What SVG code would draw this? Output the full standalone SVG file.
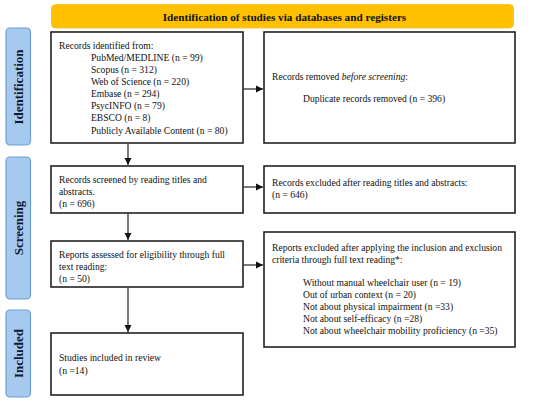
<svg xmlns="http://www.w3.org/2000/svg" width="550" height="402" viewBox="0 0 550 402">
<defs>
<marker id="ah" markerWidth="8" markerHeight="8" refX="7" refY="4" orient="auto" markerUnits="userSpaceOnUse">
<path d="M0,0.5 L7,4 L0,7.5 Z" fill="#111"/>
</marker>
<style>
.box{fill:#fff;stroke:#222;stroke-width:1.6}
.side{fill:#a5c9ef;stroke:#6d9fd4;stroke-width:1.2}
.t{font-family:'Liberation Serif','Times New Roman',serif;font-size:9.6px;fill:#111}
.sl{font-family:'Liberation Serif','Times New Roman',serif;font-size:13px;font-weight:bold;fill:#0d1a33}
.hd{font-family:'Liberation Serif','Times New Roman',serif;font-size:11.2px;font-weight:bold;fill:#111}
.c{stroke:#333;stroke-width:1.3;fill:none}
</style>
</defs>
<rect width="550" height="402" fill="#fff"/>
<g id="header">
<rect x="51.5" y="4.5" width="462" height="23.5" rx="4" fill="#ffc000" stroke="#f5c43a" stroke-width="1"/>
<text class="hd" x="284.5" y="20.5" text-anchor="middle">Identification of studies via databases and registers</text>
</g>
<g id="side-identification">
<rect class="side" x="6" y="28" width="24.5" height="117" rx="4"/>
<text class="sl" transform="translate(23,87) rotate(-90)" text-anchor="middle">Identification</text>
</g>
<g id="side-screening">
<rect class="side" x="6" y="157" width="24.5" height="142" rx="4"/>
<text class="sl" transform="translate(23,228) rotate(-90)" text-anchor="middle">Screening</text>
</g>
<g id="side-included">
<rect class="side" x="6" y="310" width="24.5" height="87" rx="4"/>
<text class="sl" transform="translate(23,353.5) rotate(-90)" text-anchor="middle">Included</text>
</g>
<g id="records-identified">
<rect class="box" x="51" y="32" width="192" height="111"/>
<text class="t" x="59" y="49">Records identified from:</text>
<text class="t" x="91" y="61">PubMed/MEDLINE (n = 99)</text>
<text class="t" x="91" y="73">Scopus (n = 312)</text>
<text class="t" x="91" y="85">Web of Science (n = 220)</text>
<text class="t" x="91" y="97">Embase (n = 294)</text>
<text class="t" x="91" y="109">PsycINFO (n = 79)</text>
<text class="t" x="91" y="121">EBSCO (n = 8)</text>
<text class="t" x="91" y="133.5">Publicly Available Content (n = 80)</text>
</g>
<g id="records-removed">
<rect class="box" x="264" y="32" width="251" height="111"/>
<text class="t" x="272" y="80">Records removed <tspan font-style="italic">before screening</tspan>:</text>
<text class="t" x="303" y="102">Duplicate records removed (n = 396)</text>
</g>
<g id="records-screened">
<rect class="box" x="51" y="166" width="192" height="47"/>
<text class="t" x="59" y="183">Records screened by reading titles and</text>
<text class="t" x="59" y="195">abstracts.</text>
<text class="t" x="59" y="207">(n = 696)</text>
</g>
<g id="records-excluded">
<rect class="box" x="264" y="166" width="251" height="47"/>
<text class="t" x="272" y="186">Records excluded after reading titles and abstracts:</text>
<text class="t" x="272" y="198">(n = 646)</text>
</g>
<g id="reports-assessed">
<rect class="box" x="51" y="241" width="192" height="46"/>
<text class="t" x="59" y="258">Reports assessed for eligibility through full</text>
<text class="t" x="59" y="270">text reading:</text>
<text class="t" x="59" y="282">(n = 50)</text>
</g>
<g id="reports-excluded">
<rect class="box" x="264" y="232" width="251" height="115"/>
<text class="t" x="272" y="251">Reports excluded after applying the inclusion and exclusion</text>
<text class="t" x="272" y="263">criteria through full text reading*:</text>
<text class="t" x="303" y="286">Without manual wheelchair user (n = 19)</text>
<text class="t" x="303" y="298">Out of urban context (n = 20)</text>
<text class="t" x="303" y="310">Not about physical impairment (n =33)</text>
<text class="t" x="303" y="322">Not about self-efficacy (n =28)</text>
<text class="t" x="303" y="334">Not about wheelchair mobility proficiency (n =35)</text>
</g>
<g id="studies-included">
<rect class="box" x="51" y="333" width="192" height="62"/>
<text class="t" x="59" y="361">Studies included in review</text>
<text class="t" x="59" y="374">(n =14)</text>
</g>
<g id="connectors">
<line class="c" x1="243" y1="89" x2="263" y2="89" marker-end="url(#ah)"/>
<line class="c" x1="243" y1="187" x2="263" y2="187" marker-end="url(#ah)"/>
<line class="c" x1="243" y1="265" x2="263" y2="265" marker-end="url(#ah)"/>
<line class="c" x1="128" y1="143" x2="128" y2="165" marker-end="url(#ah)"/>
<line class="c" x1="128" y1="213" x2="128" y2="240" marker-end="url(#ah)"/>
<line class="c" x1="128" y1="287" x2="128" y2="332" marker-end="url(#ah)"/>
</g>
</svg>
